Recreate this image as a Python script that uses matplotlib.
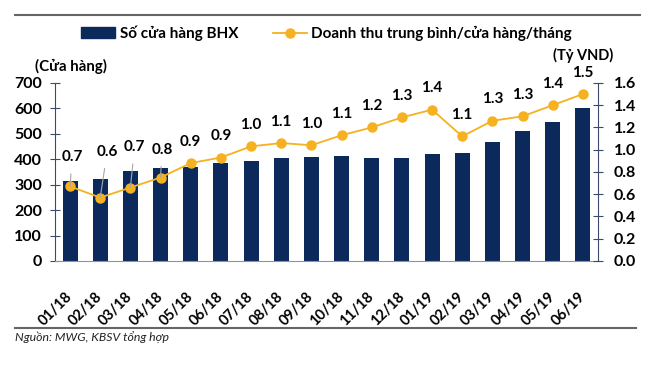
#bieu do so cua hang BHX va doanh thu trung binh

import numpy as np
import matplotlib.pyplot as plt
from matplotlib.lines import Line2D
from matplotlib.patches import Patch

plt.rcParams['font.family'] = ['Lato', 'DejaVu Sans']

thang = ['01/18', '02/18', '03/18', '04/18', '05/18', '06/18', '07/18', '08/18', '09/18',
         '10/18', '11/18', '12/18', '01/19', '02/19', '03/19', '04/19', '05/19', '06/19']
so_cua_hang = [315, 324, 354, 366, 371, 384, 393, 404, 408,
               413, 404, 404, 421, 423, 469, 511, 545, 600]
doanh_thu = [0.67, 0.57, 0.66, 0.75, 0.88, 0.93, 1.03, 1.06, 1.04,
             1.13, 1.20, 1.29, 1.36, 1.12, 1.26, 1.30, 1.40, 1.50]

# offset de nhan (diem) cho 4 thang dau co duong dan
lech_nhan = {0: (1.5, 21), 1: (5, 33), 2: (3, 29), 3: (1, 20)}

xanh = '#0b2a5b'
cam = '#f5b120'
truc = '#3b4a6b'

fig = plt.figure(figsize=(6.6, 3.77), dpi=100)
ax = fig.add_axes([0.0833, 0.3077, 0.8227, 0.4723])
x = np.arange(len(thang))
ax.bar(x, so_cua_hang, width=0.5, color=xanh, zorder=2)
ax.set_xlim(-0.5, len(thang) - 0.5)
ax.set_ylim(0, 700)
ax.set_yticks(np.arange(0, 701, 100))
ax.set_xticks(x)
ax.set_xticklabels(thang, rotation=45, ha='right', va='center', rotation_mode='anchor',
                   fontsize=10.5, fontweight='bold')
ax.tick_params(axis='x', length=0, pad=24)
ax.tick_params(axis='y', direction='inout', length=7, color=truc, pad=6,
               labelsize=11.5)
for t in ax.get_yticklabels():
    t.set_fontweight('bold')
for s in ['top', 'right']:
    ax.spines[s].set_visible(False)
ax.spines['left'].set_color(truc)
ax.spines['bottom'].set_color('#8a94a8')

ax2 = ax.twinx()
ax2.plot(x, doanh_thu, color=cam, lw=1.3, marker='o', ms=6.5, zorder=3)
ax2.set_ylim(0, 1.6)
ax2.set_yticks(np.arange(0, 1.61, 0.2))
ax2.set_yticklabels([f'{v:.1f}' for v in np.arange(0, 1.61, 0.2)])
ax2.tick_params(axis='y', direction='inout', length=7, color=truc, pad=8,
                labelsize=11.5)
for t in ax2.get_yticklabels():
    t.set_fontweight('bold')
for s in ['top', 'left', 'bottom']:
    ax2.spines[s].set_visible(False)
ax2.spines['right'].set_color(truc)

for i, v in enumerate(doanh_thu):
    if i in lech_nhan:
        ax2.annotate(f'{v:.1f}', (i, v), xytext=lech_nhan[i], textcoords='offset points',
                     ha='center', va='center', fontsize=11, fontweight='bold',
                     arrowprops=dict(arrowstyle='-', color='#a6a6a6', lw=0.8,
                                     shrinkA=5, shrinkB=0))
    else:
        ax2.annotate(f'{v:.1f}', (i, v), xytext=(0, 15.5), textcoords='offset points',
                     ha='center', va='center', fontsize=11, fontweight='bold')

fig.text(0.053, 0.825, '(Cửa hàng)', fontsize=10.8, fontweight='bold', va='center')
fig.text(0.838, 0.853, '(Tỷ VND)', fontsize=10.5, fontweight='bold', va='center')

handles = [Patch(color=xanh),
           Line2D([], [], color=cam, lw=1.3, marker='o', ms=6.5)]
fig.legend(handles, ['Số cửa hàng BHX', 'Doanh thu trung bình/cửa hàng/tháng'],
           loc='center', bbox_to_anchor=(0.495, 0.912), ncol=2, frameon=False,
           prop={'size': 11, 'weight': 'bold'}, handlelength=2.2,
           handletextpad=0.3, columnspacing=2.3)

# duong ke tren va duoi
fig.add_artist(Line2D([0.023, 0.97], [0.96, 0.96], color='#666666', lw=1.5))
fig.add_artist(Line2D([0.023, 0.964], [0.13, 0.13], color='#666666', lw=1.5))
fig.text(0.023, 0.106, 'Nguồn: MWG, KBSV tổng hợp', fontsize=8.8, style='italic',
         va='center', color='#222222')

fig.savefig('out.png', dpi=100)
